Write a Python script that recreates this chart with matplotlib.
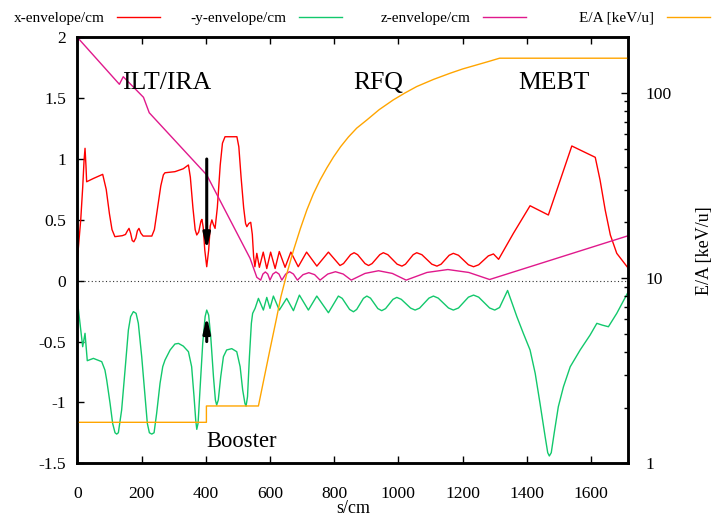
import matplotlib
matplotlib.use("Agg")
import matplotlib.pyplot as plt
from matplotlib.ticker import FixedLocator, NullFormatter, LogLocator

plt.rcParams["font.family"] = ["Liberation Serif", "DejaVu Serif"]
plt.rcParams["axes.unicode_minus"] = False

# ---- beam envelopes along the line (s in cm, envelope in cm) ----
x_s = [0, 10.6, 16.8, 21, 24, 27, 29, 50, 79, 90, 100, 108, 117, 140, 150, 156, 161,
       166, 171, 176, 182, 187, 192, 198, 205, 232, 240, 250, 260, 268, 273, 304, 330,
       346, 352, 360, 367, 372, 378, 385, 388, 392, 397, 403, 409, 414, 419, 424, 429,
       436, 445, 452, 460, 497, 503, 510, 518, 524, 528, 534, 540, 545, 549, 553,
       559, 567, 579, 590, 602, 616, 629, 647, 665, 688, 714, 746, 782, 818, 829, 851,
       862, 873, 896, 907, 918, 942, 953, 967, 996, 1011, 1022, 1046, 1057, 1073, 1104,
       1120, 1133, 1158, 1171, 1187, 1218, 1234, 1250, 1280, 1296, 1312, 1358, 1410,
       1467, 1504, 1540, 1613, 1628, 1644, 1660, 1680, 1716]
x_env = [0.17, 0.50, 0.77, 0.99, 1.088, 0.94, 0.813, 0.84, 0.874, 0.75, 0.55, 0.42, 0.362,
         0.37, 0.38, 0.41, 0.43, 0.39, 0.33, 0.32, 0.35, 0.41, 0.43, 0.39, 0.367, 0.367,
         0.42, 0.60, 0.78, 0.87, 0.887, 0.896, 0.92, 0.951, 0.85, 0.60, 0.42, 0.376, 0.40,
         0.49, 0.504, 0.44, 0.25, 0.115, 0.25, 0.45, 0.50, 0.46, 0.43, 0.60, 0.95, 1.13,
         1.183, 1.183, 1.10, 0.85, 0.60, 0.47, 0.444, 0.47, 0.48, 0.38, 0.20, 0.115,
         0.225, 0.110, 0.235, 0.100, 0.235, 0.100, 0.240, 0.110, 0.235, 0.115, 0.235,
         0.120, 0.235, 0.125, 0.141, 0.214, 0.230, 0.214, 0.141, 0.125, 0.141, 0.214,
         0.230, 0.214, 0.136, 0.120, 0.136, 0.214, 0.230, 0.214, 0.136, 0.120, 0.136,
         0.209, 0.225, 0.209, 0.131, 0.115, 0.131, 0.204, 0.220, 0.176, 0.389, 0.616,
         0.540, 0.827, 1.107, 1.014, 0.827, 0.581, 0.376, 0.225, 0.102]

y_s = [0, 16.7, 24, 31, 50, 76, 86, 91.5, 102, 110, 117.4, 122.6, 127.8, 138, 148.6, 159,
       166, 174.5, 183, 190, 200.5, 211, 218, 224.4, 231.7, 239, 247, 257.6, 266, 273,
       289, 304, 315, 330, 346, 356, 363.5, 368.7, 372, 376, 382, 390.5, 398, 403, 409,
       415.5, 424, 430, 434, 439, 446.6, 455, 465, 481, 496.5, 507, 515, 522, 525.5,
       530, 536, 542, 546, 553.6, 564, 579.4, 590, 600, 610.6, 629, 652, 673, 691.6,
       719.6, 745.8, 782, 813, 825, 848, 860, 870, 891, 901.6, 913, 936, 948, 960, 983,
       995, 1009, 1038, 1052, 1066, 1095, 1109, 1124, 1156, 1171, 1187, 1218, 1234,
       1250, 1284, 1300, 1315, 1340, 1358, 1369, 1389, 1410, 1426, 1441, 1457, 1465,
       1470, 1476, 1485, 1498, 1514, 1535, 1566, 1597, 1618, 1634, 1654, 1680, 1716]
y_env = [-0.159, -0.542, -0.432, -0.657, -0.638, -0.665, -0.734, -0.816, -1.008, -1.172,
         -1.249, -1.260, -1.249, -1.062, -0.734, -0.405, -0.295, -0.254, -0.268, -0.350,
         -0.624, -0.953, -1.172, -1.249, -1.260, -1.249, -1.090, -0.843, -0.706, -0.652,
         -0.569, -0.520, -0.515, -0.537, -0.583, -0.706, -0.953, -1.145, -1.221, -1.172,
         -0.898, -0.515, -0.295, -0.241, -0.282, -0.460, -0.789, -0.980, -1.021, -0.980,
         -0.789, -0.624, -0.569, -0.558, -0.583, -0.706, -0.898, -1.008, -1.030, -0.953,
         -0.624, -0.350, -0.268, -0.227, -0.145, -0.241, -0.137, -0.227, -0.126, -0.241,
         -0.145, -0.246, -0.118, -0.241, -0.126, -0.263, -0.126, -0.145, -0.236, -0.255,
         -0.236, -0.145, -0.126, -0.143, -0.229, -0.246, -0.229, -0.153, -0.137, -0.153,
         -0.225, -0.241, -0.225, -0.143, -0.126, -0.143, -0.224, -0.241, -0.224, -0.135,
         -0.118, -0.135, -0.224, -0.241, -0.220, -0.080, -0.214, -0.296, -0.432, -0.569,
         -0.761, -1.008, -1.282, -1.413, -1.440, -1.413, -1.254, -1.035, -0.871, -0.707,
         -0.569, -0.446, -0.350, -0.364, -0.378, -0.268, -0.090]

z_s = [0, 131, 143, 206, 224, 403, 538, 559, 571, 578, 585.5, 593, 600, 609, 618.5, 628,
       637, 649, 661, 673, 685.5, 703, 721, 739, 756, 780, 804, 828, 853, 896, 938, 981,
       1024, 1089, 1154, 1219, 1284, 1716]
z_env = [2.0, 1.614, 1.676, 1.507, 1.38, 0.869, 0.184, 0.028, 0.005, 0.055, 0.072, 0.055,
         0.005, 0.055, 0.072, 0.055, 0.005, 0.055, 0.074, 0.055, 0.005, 0.050, 0.066,
         0.050, 0.005, 0.055, 0.074, 0.055, 0.005, 0.060, 0.082, 0.060, 0.005, 0.068,
         0.092, 0.068, 0.010, 0.370]

# ---- specific energy (keV/u) ----
e_s = [0, 402, 402, 564, 580, 600, 620, 634, 652, 673, 695, 715, 735, 756, 777, 798, 820,
       844, 870, 902, 940, 984, 1020, 1057, 1110, 1161, 1200, 1244, 1280, 1315, 1716]
e_val = [1.665, 1.665, 2.04, 2.04, 2.79, 4.12, 6.03, 7.94, 10.5, 14.1, 18.6, 23.4, 28.5,
         33.9, 39.4, 45.2, 51.3, 57.8, 64.6, 71.6, 81.3, 91.8, 100.0, 108.4, 118.6, 127.9,
         134.9, 141.9, 147.9, 154.2, 154.2]

# section names and arrow markers (s, envelope)
section_names = ["ILT/IRA", "RFQ", "MEBT", "Booster"]
section_pos = [(138, 1.575), (858, 1.573), (1374, 1.573), (403, -1.364)]
section_size = [18.5, 18.5, 18.5, 16.3]
arrow_down = [(403, 1.0), (403, 0.25)]
arrow_up = [(403, -0.5), (403, -0.29)]

left_ticks = [-1.5, -1, -0.5, 0, 0.5, 1, 1.5, 2]
left_labels = ["-1.5", "-1", "-0.5", "0", "0.5", "1", "1.5", "2"]
s_ticks = [0, 200, 400, 600, 800, 1000, 1200, 1400, 1600]
e_ticks = [1, 10, 100]

fig = plt.figure(figsize=(7.14, 5.18), dpi=100)
ax = fig.add_axes([0.1083, 0.1056, 0.7717, 0.8224])
ax2 = ax.twinx()

c_x, c_y, c_z, c_e = "#ff0000", "#12c86c", "#e0198c", "#ffa500"

ax.axhline(0, color="#333333", lw=0.8, ls=(0, (1, 2.2)), zorder=1)
lx, = ax.plot(x_s, x_env, color=c_x, lw=1.0)
ly, = ax.plot(y_s, y_env, color=c_y, lw=1.0)
lz, = ax.plot(z_s, z_env, color=c_z, lw=1.0)
le, = ax2.plot(e_s, e_val, color=c_e, lw=1.0)

for (xa, ya), (xb, yb) in (arrow_down, arrow_up):
    ax.annotate("", xy=(xb, yb), xytext=(xa, ya),
                arrowprops=dict(arrowstyle="-|>,head_length=0.9,head_width=0.2",
                                color="black", lw=2.2, shrinkA=0, shrinkB=0))

for name, (px, py), fs in zip(section_names, section_pos, section_size):
    ax.text(px, py, name, fontsize=fs, ha="left", va="baseline")

ax.set_xlim(0, 1716)
ax.set_ylim(-1.5, 2)
ax.set_xticks(s_ticks)
ax.set_yticks(left_ticks)
ax.set_yticklabels(left_labels)
ax.tick_params(axis="both", direction="in", labelsize=12.6, length=5, width=1)
ax.tick_params(axis="x", top=True, pad=16)
ax.tick_params(axis="y", right=False, pad=8.2)
ax.set_xlabel("s/cm", fontsize=13, labelpad=-1.0)

ax2.set_yscale("log")
ax2.set_ylim(1, 200)
ax2.yaxis.set_major_locator(FixedLocator(e_ticks))
ax2.set_yticklabels([str(t) for t in e_ticks])
ax2.yaxis.set_minor_locator(LogLocator(base=10, subs=range(2, 10)))
ax2.yaxis.set_minor_formatter(NullFormatter())
ax2.tick_params(axis="y", which="major", direction="in", labelsize=12.6, length=5, width=1, pad=12)
ax2.tick_params(axis="y", which="minor", direction="in", length=3, width=1)
ax2.set_ylabel("E/A [keV/u]", fontsize=13, labelpad=17.5)

for a in (ax, ax2):
    for sp in a.spines.values():
        sp.set_linewidth(1.8)

# key along the top edge, text to the left of each line sample
key_ends = [160, 342, 526, 710]
for h, lab, xe in zip([lx, ly, lz, le],
                      ["x-envelope/cm", "-y-envelope/cm", "z-envelope/cm", "E/A [keV/u]"],
                      key_ends):
    fig.legend(handles=[h], labels=[lab], loc="center right",
               bbox_to_anchor=(xe / 714, 1 - 18 / 518), markerfirst=False,
               frameon=False, fontsize=11, handlelength=2.8, handletextpad=0.85,
               borderpad=0, borderaxespad=0)

fig.savefig("out.png", dpi=100)
